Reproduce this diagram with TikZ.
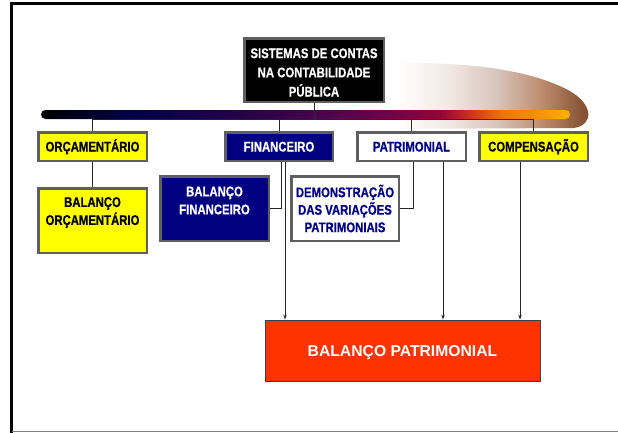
\documentclass[tikz,border=0pt]{standalone}
\usepackage{fontspec}
\setmainfont{Liberation Sans}
\newfontfamily\nf{Liberation Sans Bold}[FakeStretch=0.81,FakeBold=0.6]
\usetikzlibrary{arrows.meta,calc}
\pgfdeclarelayer{bg}
\pgfsetlayers{bg,main}
\definecolor{navyb}{RGB}{0,0,128}
\definecolor{bord}{RGB}{95,95,95}
\definecolor{bpred}{RGB}{255,51,0}
\definecolor{ylw}{RGB}{255,255,0}
\definecolor{bA}{RGB}{0,0,72}
\definecolor{bB}{RGB}{40,0,72}
\definecolor{bC}{RGB}{80,0,80}
\definecolor{bD}{RGB}{120,0,70}
\definecolor{bE}{RGB}{150,0,56}
\definecolor{bF}{RGB}{208,48,32}
\definecolor{bG}{RGB}{240,112,0}
\definecolor{bH}{RGB}{255,176,0}
\definecolor{gA}{RGB}{242,232,226}
\definecolor{gB}{RGB}{214,196,186}
\definecolor{gC}{RGB}{190,140,112}
\definecolor{gD}{RGB}{140,90,58}
\definecolor{gE}{RGB}{122,74,48}
\pgfdeclarehorizontalshading{barshade}{100bp}{color(0bp)=(black); color(25bp)=(black); color(33.4bp)=(bA); color(44.8bp)=(bB); color(52.3bp)=(bC); color(58.9bp)=(bD); color(62.7bp)=(bE); color(65.5bp)=(bF); color(68.4bp)=(bG); color(75bp)=(bH); color(100bp)=(bH)}
\pgfdeclarehorizontalshading{glowshade}{100bp}{color(0bp)=(white); color(30bp)=(white); color(42bp)=(gA); color(53bp)=(gB); color(63bp)=(gC); color(71.4bp)=(gD); color(75bp)=(gE); color(100bp)=(gE)}
\tikzset{
  box/.style={draw=bord, line width=2.5pt, inner sep=0pt},
  rowone/.style={box, minimum width=108.5pt, minimum height=28.5pt,
    font=\nf\fontsize{14}{18}\selectfont, text height=10pt, text depth=0pt},
  rowtwo/.style={box, minimum width=108.5pt, minimum height=64.5pt},
  lbl/.style={font=\nf\fontsize{14}{18}\selectfont, align=center, inner sep=0pt},
  conn/.style={line width=0.9pt, draw=black!85},
  arr/.style={conn, -{Stealth[length=5pt,width=3.5pt]}},
}
\begin{document}
\begin{tikzpicture}[x=1pt,y=-1pt]
\useasboundingbox (0,0) rectangle (618,432);
% frame
\draw[line width=2.7pt, line cap=rect] (618,3.3) -- (11.5,3.3) -- (11.5,432);
\draw[gray, line width=1.3pt] (11.5,431.3) -- (618,431.3);

% title
\node[box, fill=black, minimum width=139.5pt, minimum height=63.5pt] (title) at (314,70) {};
\node[lbl, text=white, font=\nf\fontsize{14}{19.2}\selectfont] (titletext) at (314,72.5)
  {SISTEMAS DE CONTAS\\NA CONTABILIDADE\\PÚBLICA};

% row one
\node[rowone, fill=ylw] (orc) at (92.5,146.5) {ORÇAMENTÁRIO};
\node[rowone, fill=navyb, text=white, minimum width=107.5pt] (fin) at (279,146.5) {FINANCEIRO};
\node[rowone, fill=white, text=navyb] (pat) at (411.5,146.5) {PATRIMONIAL};
\node[rowone, fill=ylw] (comp) at (533.5,146.5) {COMPENSAÇÃO};

% row two
\node[rowtwo, fill=ylw] (bo) at (92.5,220.5) {};
\node[lbl] (botext) at (92.5,212.5) {BALANÇO\\ORÇAMENTÁRIO};
\node[rowtwo, fill=navyb] (bf) at (214.5,208.5) {};
\node[lbl, text=white] (bftext) at (214.5,200.5) {BALANÇO\\FINANCEIRO};
\node[rowtwo, fill=white, minimum width=107.5pt] (dvp) at (345,208.5) {};
\node[lbl, text=navyb, font=\nf\fontsize{14}{17.5}\selectfont] (dvptext) at (345,208.5)
  {DEMONSTRAÇÃO\\DAS VARIAÇÕES\\PATRIMONIAIS};

% result
\node[draw=black!75, line width=0.8pt, fill=bpred, minimum width=275pt, minimum height=61pt,
  text=white, font=\bfseries\fontsize{15.7}{18}\selectfont, text height=11.2pt, text depth=0pt]
  (bp) at (402.5,350.5) {BALANÇO PATRIMONIAL};

\begin{pgfonlayer}{bg}
  \shade[shading=glowshade] (375,129) -- (574,128)
    .. controls (594,125) and (594,104) .. (568,90)
    .. controls (530,70) and (470,62) .. (395,63) -- (375,63) -- cycle;
  \coordinate (hl) at (92,119.5);
  \draw[conn] (orc.north) -- (orc.north |- hl) -- (comp.north |- hl) -- (comp.north);
  \draw[conn] (fin.north) -- (fin.north |- hl);
  \draw[conn] (pat.north) -- (pat.north |- hl);
  \shade[shading=barshade, rounded corners=4.5pt] (41,110) rectangle (570,119);
\end{pgfonlayer}

\draw[conn] (title.south) -- (title.south |- hl);

% row connectors
\draw[conn] (orc.south) -- (bo.north);
\draw[conn] (281,0 |- fin.south) |- (bf.east);
\draw[arr] (285,0 |- fin.south) -- (285,0 |- bp.north);
\draw[conn] (413,0 |- pat.south) |- (dvp.east);
\draw[arr] (443,0 |- pat.south) -- (443,0 |- bp.north);
\draw[arr] (520,0 |- comp.south) -- (520,0 |- bp.north);
\end{tikzpicture}
\end{document}
